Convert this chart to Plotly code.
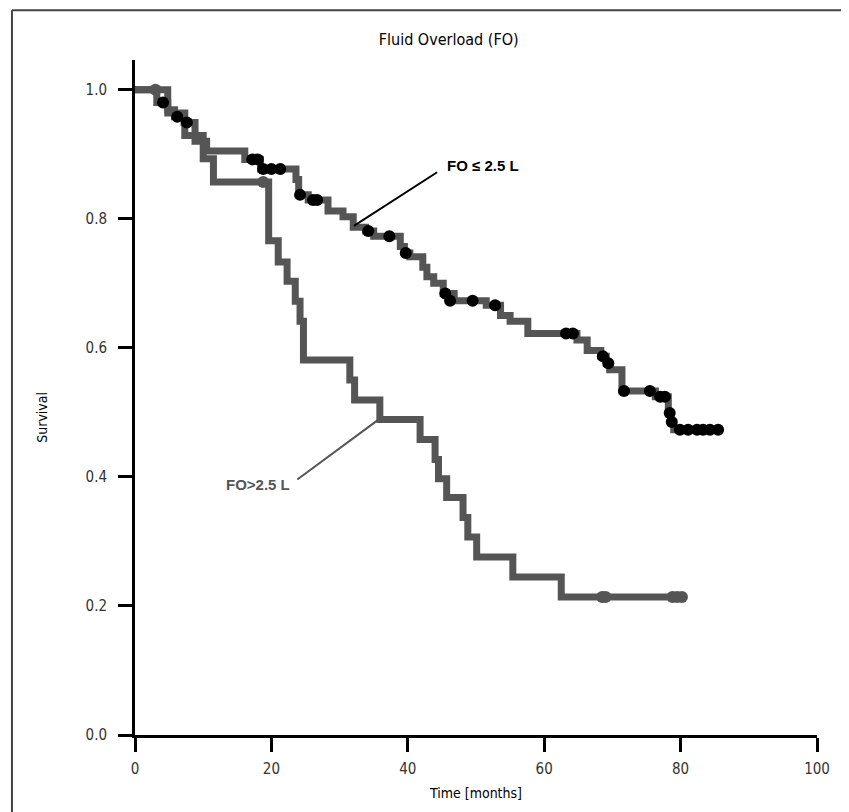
import plotly.graph_objects as go

# ---- Data ----
# FO <= 2.5 L : step times (months) and survival from that time onward
low_t = [0, 3.2, 4.8, 5.8, 7.2, 8.8, 10.5, 16.1, 18.4, 23.6, 24.0, 25.4, 28.3, 30.5,
         32.0, 33.8, 35.0, 38.9, 39.5, 40.3, 42.2, 42.8, 43.8, 45.2, 46.8, 51.5,
         53.6, 55.0, 57.6, 64.8, 66.3, 68.3, 69.1, 69.6, 71.4, 76.3, 78.2, 78.6, 79.0]
low_s = [1.0, 0.98, 0.969, 0.958, 0.949, 0.92, 0.905, 0.892, 0.877, 0.861, 0.837, 0.829,
         0.812, 0.803, 0.787, 0.781, 0.773, 0.757, 0.747, 0.741, 0.725, 0.710, 0.700,
         0.684, 0.673, 0.666, 0.650, 0.641, 0.622, 0.612, 0.596, 0.587, 0.576, 0.566,
         0.533, 0.524, 0.499, 0.485, 0.473]
low_end = 85.8
low_cens_t = [4.1, 6.2, 7.6, 17.2, 18.0, 18.8, 20.0, 21.3, 24.2, 26.1, 26.7, 34.2, 37.3,
              39.7, 45.5, 46.2, 49.5, 52.8, 63.2, 64.2, 68.6, 69.4, 71.7, 75.5, 77.0,
              77.7, 78.4, 78.7, 79.9, 81.1, 82.4, 83.3, 84.3, 85.5]
low_cens_s = [0.98, 0.958, 0.949, 0.892, 0.892, 0.877, 0.877, 0.877, 0.837, 0.829, 0.829,
              0.781, 0.773, 0.747, 0.684, 0.673, 0.673, 0.666, 0.622, 0.622, 0.587, 0.576,
              0.533, 0.533, 0.524, 0.524, 0.499, 0.485, 0.473, 0.473, 0.473, 0.473,
              0.473, 0.473]

# FO > 2.5 L
high_t = [0, 4.8, 7.3, 10.0, 11.5, 19.6, 21.0, 22.3, 23.5, 24.2, 24.7, 31.5, 32.2, 35.9,
          41.8, 44.0, 44.5, 45.7, 48.1, 48.8, 50.1, 55.4, 62.5]
high_s = [1.0, 0.964, 0.929, 0.893, 0.857, 0.766, 0.733, 0.703, 0.672, 0.641, 0.581,
          0.550, 0.519, 0.489, 0.458, 0.427, 0.397, 0.368, 0.337, 0.307, 0.276, 0.245,
          0.214]
high_end = 80.6
high_cens_t = [3.0, 18.8, 68.5, 69.0, 78.8, 79.5, 80.2]
high_cens_s = [1.0, 0.857, 0.214, 0.214, 0.214, 0.214, 0.214]

x_ticks = [0, 20, 40, 60, 80, 100]
y_ticks = [0.0, 0.2, 0.4, 0.6, 0.8, 1.0]

LINE = "#555555"
FONT = "DejaVu Sans Condensed, Liberation Sans, Arial, sans-serif"
FONT_B = "Liberation Sans, Arial, sans-serif"

fig = go.Figure()
fig.add_trace(go.Scatter(x=high_t + [high_end], y=high_s + [high_s[-1]], mode="lines",
                         line=dict(color=LINE, width=7, shape="hv"), hoverinfo="skip"))
fig.add_trace(go.Scatter(x=low_t + [low_end], y=low_s + [low_s[-1]], mode="lines",
                         line=dict(color=LINE, width=7, shape="hv"), hoverinfo="skip"))
fig.add_trace(go.Scatter(x=high_cens_t, y=high_cens_s, mode="markers",
                         marker=dict(color=LINE, size=12, line=dict(width=0)), hoverinfo="skip"))
fig.add_trace(go.Scatter(x=low_cens_t, y=low_cens_s, mode="markers",
                         marker=dict(color="black", size=12, line=dict(width=0)), hoverinfo="skip"))

# label leader lines
fig.add_shape(type="line", x0=44.3, y0=0.872, x1=32.1, y1=0.789, xref="x", yref="y",
              line=dict(color="black", width=2))
fig.add_shape(type="line", x0=23.8, y0=0.396, x1=35.6, y1=0.488, xref="x", yref="y",
              line=dict(color=LINE, width=2))

# frame (top and left edges)
fig.add_shape(type="line", xref="paper", yref="paper", x0=-0.1804, y0=1.0736, x1=1.1,
              y1=1.0736, line=dict(color="#444444", width=2))
fig.add_shape(type="line", xref="paper", yref="paper", x0=-0.1804, y0=1.0736, x1=-0.1804,
              y1=-0.2, line=dict(color="#444444", width=2))

fig.add_annotation(x=51.0, y=0.883, xref="x", yref="y", text="FO ≤ 2.5 L", showarrow=False,
                   font=dict(family=FONT_B, size=15, color="black", weight="bold"))
fig.add_annotation(x=18.0, y=0.388, xref="x", yref="y", text="FO>2.5 L", showarrow=False,
                   font=dict(family=FONT_B, size=15, color=LINE, weight="bold"))
fig.add_annotation(x=-0.151, y=0.47, xref="paper", yref="paper", text="Survival",
                   showarrow=False, textangle=-90,
                   font=dict(family=FONT, size=14, color="black"))

# page body has an 8px margin, so the figure is 8px smaller and margins shifted
fig.update_layout(
    width=841, height=804,
    margin=dict(l=127, r=32, t=52, b=73),
    paper_bgcolor="white", plot_bgcolor="white",
    showlegend=False,
    title=dict(text="Fluid Overload (FO)", x=0.524, xanchor="center", y=1 - 31 / 804,
               yanchor="middle", font=dict(family=FONT, size=16, color="black")),
    font=dict(family=FONT),
)
fig.update_xaxes(range=[0, 100], tickvals=x_ticks, ticks="outside", ticklen=14, tickwidth=3,
                 tickcolor="black", showline=True, linecolor="black", linewidth=3,
                 showgrid=False, zeroline=False, ticklabelstandoff=4,
                 tickfont=dict(family=FONT, size=15, color="#333333"),
                 title=dict(text="Time [months]", standoff=12,
                            font=dict(family=FONT, size=14, color="black")))
fig.update_yaxes(range=[0, 1.046], tickvals=y_ticks, tickformat=".1f", ticks="outside",
                 ticklen=14, tickwidth=3, tickcolor="black", showline=True, linecolor="black",
                 linewidth=3, showgrid=False, zeroline=False, ticklabelstandoff=8,
                 tickfont=dict(family=FONT, size=15, color="#333333"))

fig.write_html("out.html")
